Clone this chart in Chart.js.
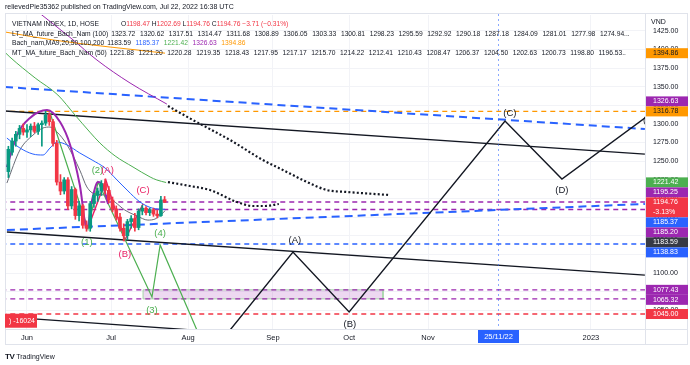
<!DOCTYPE html>
<html>
<head>
<meta charset="utf-8">
<script src="https://cdn.jsdelivr.net/npm/chart.js@4.4.1/dist/chart.umd.min.js"></script>
<style>
  html, body { margin: 0; padding: 0; background: #fff; }
  #wrap { position: relative; width: 690px; height: 365px; overflow: hidden;
          font-family: "Liberation Sans", Arial, sans-serif; color: #131722; }
  canvas { position: absolute; left: 0; top: 0; }
  #hdr { position: absolute; left: 5px; top: 3px; font-size: 7px; white-space: nowrap; color: #131722; }
  #legend { position: absolute; left: 12px; top: 19px; font-size: 6.7px; line-height: 9.6px; white-space: nowrap; }
  #legend .nm { margin-right: 3px; }
  #legend .nm1 { margin-right: 22px; }
  #legend .v { margin-right: 4.6px; }
  #vnd { position: absolute; left: 651px; top: 18px; font-size: 7px; }
  #logo { position: absolute; left: 5px; top: 352px; font-size: 7px; white-space: nowrap; }
  #logo b { font-size: 8px; letter-spacing: -0.5px; margin-right: 2px; }
</style>
</head>
<body>
<div id="wrap">
  <canvas id="c" width="690" height="365"></canvas>
  <div id="hdr">relievedPie35362 published on TradingView.com, Jul 22, 2022 16:38 UTC</div>
  <div id="legend"></div>
  <div id="vnd">VND</div>
  <div id="logo"><b>TV</b>TradingView</div>
</div>
<script>
/* x = trading-day index, 0 = 1 Jun 2022 */
const X_MIN = -5.91, X_MAX = 166.13;
const Y_MIN = 1024.9, Y_MAX = 1446.1;

const timeTickIdx    = [0, 22.6, 43.3, 66.1, 86.6, 107.8, 151.6];
const timeTickLabels = ['Jun', 'Jul', 'Aug', 'Sep', 'Oct', 'Nov', '2023'];
const crossIdx = 126.6, crossLabel = '25/11/22';
const priceTicks = [1050, 1075, 1100, 1125, 1150, 1175, 1200, 1225, 1250, 1275, 1300, 1325, 1350, 1375, 1400, 1425];

/* daily candles */
const candleIdx = [-5,-4,-3,-2,-1,0,1,2,3,4,5,6,7,8,9,10,11,12,13,14,15,16,17,18,19,20,21,22,23,24,25,26,27,28,29,30,31,32,33,34,35,36,37];
const openP  = [1236,1262,1277,1286,1294,1289,1292,1297,1290,1299,1301,1312,1303,1274,1222,1210,1225,1190,1212,1177,1190,1164,1160,1193,1204,1210,1220,1211,1198,1186,1175,1160,1150,1169,1173,1161,1183,1187,1181,1185,1179,1177,1198.47];
const highP  = [1270,1281,1290,1298,1300,1299,1300,1302,1301,1304,1317,1315,1306,1278,1232,1228,1228,1216,1214,1196,1192,1170,1196,1207,1214,1224,1226,1216,1202,1190,1180,1166,1172,1177,1180,1186,1191,1189,1187,1187,1184,1203,1202.69];
const lowP   = [1228,1258,1270,1280,1285,1282,1283,1288,1286,1270,1298,1298,1270,1218,1205,1206,1185,1186,1172,1170,1160,1156,1156,1188,1196,1204,1206,1194,1182,1171,1156,1143,1145,1160,1156,1158,1178,1178,1177,1176,1174,1176,1194.76];
const closeP = [1266,1277,1286,1294,1289,1292,1297,1290,1299,1301,1312,1303,1274,1222,1210,1225,1190,1212,1177,1190,1164,1160,1193,1204,1210,1220,1211,1198,1186,1175,1160,1150,1169,1173,1161,1183,1187,1181,1185,1179,1177,1198,1194.76];

/* moving averages (Bach_nam MA9,20,50,100,200) */
const ma9X   = [-5.4, -1.9, 1.6, 4.3, 6.2, 8.1, 10.8, 14.2, 16.1, 18.3, 21, 23.7, 26.3, 29.6, 32.5, 34.4, 36, 37.1];
const ma9Y   = [1220.7, 1265, 1285, 1294.5, 1295.8, 1289, 1271.7, 1238, 1215.4, 1206, 1204.6, 1195, 1184.5, 1176.5, 1171, 1172.4, 1177.8, 1183.6];
const ma20X  = [-5.4, -1.9, 1.6, 4.3, 6.2, 8.1, 10.8, 14.2, 17.5, 21, 24.2, 26.9, 30.4, 33.6, 37.1];
const ma20Y  = [1281, 1267.7, 1259.6, 1258.3, 1267.7, 1275.7, 1271.7, 1261, 1251.6, 1240.8, 1224.8, 1211.3, 1195.2, 1187.2, 1185.4];
const ma50X  = [-5.9, -4.6, 2.2, 8.3, 12.9, 16.9, 19.6, 23.7, 28.5, 33.1, 34.9, 37.4];
const ma50Y  = [1396, 1389.7, 1361.6, 1338.8, 1312, 1289, 1274.4, 1257, 1242.2, 1228.8, 1224.8, 1221.4];
const ma100X = [2, 12.1, 18.8, 27.7, 37.6];
const ma100Y = [1454, 1413.9, 1385.7, 1354.9, 1326.6];
const ma200X = [-5.9, 7.0, 37.1];
const ma200Y = [1423.3, 1412.6, 1394.9];

/* projected MAs (dotted) */
const ltX = [37.9, 44.6, 54.6, 63.4, 68.8, 75.3, 80.6, 86, 97.6];
const ltY = [1324, 1305.2, 1278.4, 1251.6, 1238.2, 1222, 1211.3, 1208.7, 1204.6];
const mtX = [37.9, 43.8, 49.2, 56.5, 60.8, 64, 67.7];
const mtY = [1222, 1216.7, 1211.3, 1195.2, 1189.9, 1189.9, 1192.6];

/* drawings */
const arcX = [-5.4, -2.7, 0.8, 5.4, 8.9, 11.6, 14.2, 16.1, 17.5, 19.1, 20.4, 21.8];
const arcY = [1242, 1285, 1308, 1318.6, 1302.5, 1271.7, 1218, 1160, 1198, 1222, 1217, 1192.5];
const waveX = [6.2, 16.4, 19.1, 33.6, 35.8, 46.5];
const waveY = [1314.6, 1159, 1222, 1067.8, 1137.6, 1014];
const abcX = [16.4, 21.2, 26.3, 31.2];
const abcY = [1160.4, 1224.8, 1144.3, 1192.6];
const zigX = [52.4, 71.5, 86.6, 128.5, 143.8, 168];
const zigY = [1010, 1128.2, 1047.7, 1303.9, 1226, 1315];

const upperTrendX = [-5.9, 166.1], upperTrendY = [1317.3, 1259.6];
const lowerTrendX = [-5.4, 166.1], lowerTrendY = [1155, 1097.3];
const lowChanX    = [-7.3, 60],    lowChanY    = [1041.6, 1018.2];
const blueDownX   = [-5.9, 166.1], blueDownY   = [1349.5, 1293.2];
const blueUpX     = [-5.4, 166.1], blueUpY     = [1157.7, 1192.6];

const boxX = [31.2, 95.7], boxY = [1077.43, 1065.32];

const levelP = [1316.78, 1195.25, 1185.20, 1138.83, 1077.43, 1065.32, 1045.00];
const levelC = ['#ff9800', '#9c27b0', '#9c27b0', '#2962ff', '#9c27b0', '#9c27b0', '#f23645'];

/* wave labels */
const greenLblT = ['(1)', '(2)', '(3)', '(4)'];
const greenLblX = [16.1, 18.95, 33.6, 35.8];
const greenLblY = [1141.6, 1238, 1050.4, 1153.7];
const pinkLblT  = ['(A)', '(B)', '(C)'];
const pinkLblX  = [21.65, 26.3, 31.2];
const pinkLblY  = [1238, 1125.5, 1211.3];
const blackLblT = ['(A)', '(B)', '(C)', '(D)', '(E)'];
const blackLblX = [72, 86.8, 129.8, 143.8, 167.3];
const blackLblY = [1144.3, 1031.6, 1314.6, 1211.3, 1305];

/* price-axis marks */
const axisP   = [1394.86, 1326.63, 1316.78, 1221.42, 1195.25, 1194.76, 1185.37, 1185.20, 1183.59, 1138.83, 1077.43, 1065.32, 1045.00];
const axisBg  = ['#ff9800', '#9c27b0', '#ff9800', '#4caf50', '#9c27b0', '#f23645', '#2962ff', '#9c27b0', '#363a45', '#2962ff', '#9c27b0', '#9c27b0', '#f23645'];
const closeSub = '-3.13%';

/* legend values */
const ltLegend = ['1323.72','1320.62','1317.51','1314.47','1311.68','1308.89','1306.05','1303.33','1300.81','1298.23','1295.59','1292.92','1290.18','1287.18','1284.09','1281.01','1277.98','1274.94...'];
const mtLegend = ['1221.88','1221.20','1220.28','1219.35','1218.43','1217.95','1217.17','1215.70','1214.22','1212.41','1210.43','1208.47','1206.37','1204.50','1202.63','1200.73','1198.80','1196.53..'];
const maLegend = ['1183.59', '1185.37', '1221.42', '1326.63', '1394.86'];
const maLegendC = ['#131722', '#2962ff', '#4caf50', '#9c27b0', '#ff9800'];

/* ---------- legend html ---------- */
const RED = '#f23645';
const spans = (arr, col) => arr.map((v, i) => `<span class="v" style="color:${Array.isArray(col) ? col[i] : col}">${v}</span>`).join('');
document.getElementById('legend').innerHTML = [
  `<div><span class="nm1">VIETNAM INDEX, 1D, HOSE</span>O<span style="color:${RED}">${openP[openP.length-1].toFixed(2)}</span> H<span style="color:${RED}">${highP[highP.length-1].toFixed(2)}</span> L<span style="color:${RED}">${lowP[lowP.length-1].toFixed(2)}</span> C<span style="color:${RED}">${closeP[closeP.length-1].toFixed(2)}</span> <span style="color:${RED}">−3.71 (−0.31%)</span></div>`,
  `<div><span class="nm">LT_MA_future_Bach_Nam (100)</span>${spans(ltLegend, '#131722')}</div>`,
  `<div><span class="nm">Bach_nam,MA9,20,50,100,200</span>${spans(maLegend, maLegendC)}</div>`,
  `<div><span class="nm">MT_MA_future_Bach_Nam (50)</span>${spans(mtLegend, '#131722')}</div>`,
].join('');

/* ---------- datasets ---------- */
const pts = (xs, ys) => xs.map((x, i) => ({ x, y: ys[i] }));
function line(xs, ys, color, width, dash, extra) {
  return Object.assign({
    type: 'line', data: pts(xs, ys),
    borderColor: color, borderWidth: width, borderDash: dash || [],
    pointRadius: 0, tension: 0, fill: false, order: 5,
  }, extra || {});
}
const smooth = { cubicInterpolationMode: 'monotone' };

const UP = '#089981', DN = '#f23645';
const candleCol = candleIdx.map((_, i) => closeP[i] >= openP[i] ? UP : DN);

const datasets = [
  // zone box
  line([boxX[0], boxX[1], boxX[1], boxX[0], boxX[0]], [boxY[0], boxY[0], boxY[1], boxY[1], boxY[0]],
       '#a5d6a7', 1, [], { fill: 'shape', backgroundColor: 'rgba(156,39,176,0.18)', order: 9 }),
  // horizontal levels
  ...levelP.map((p, i) => line([X_MIN - 1, X_MAX + 1], [p, p], levelC[i], 1.4, [5, 4], { order: 8 })),
  // channels
  line(blueDownX, blueDownY, '#2962ff', 2, [8, 5], { order: 7 }),
  line(blueUpX, blueUpY, '#2962ff', 2, [8, 5], { order: 7 }),
  line(upperTrendX, upperTrendY, '#131722', 1.3, [], { order: 7 }),
  line(lowerTrendX, lowerTrendY, '#131722', 1.3, [], { order: 7 }),
  line(lowChanX, lowChanY, '#131722', 1.3, [], { order: 7 }),
  // moving averages
  line(ma200X, ma200Y, '#ff9800', 1, [], smooth),
  line(ma100X, ma100Y, '#9c27b0', 1, [], smooth),
  line(ma50X, ma50Y, '#4caf50', 1, [], smooth),
  line(ma20X, ma20Y, '#2962ff', 1, [], smooth),
  line(ma9X, ma9Y, '#6a6d78', 1, [], smooth),
  line(ltX, ltY, '#131722', 2.2, [2, 2.2], smooth),
  line(mtX, mtY, '#131722', 2.2, [2, 2.2], smooth),
  // wave drawings
  line(arcX, arcY, '#9c27b0', 2, [], Object.assign({ order: 2 }, smooth)),
  line(waveX, waveY, '#4caf50', 1.2, [], { order: 2 }),
  line(abcX, abcY, '#e91e63', 1.4, [], { order: 2 }),
  line(zigX, zigY, '#131722', 1.4, [], { order: 2 }),
  // candles
  { type: 'bar', data: candleIdx.map((x, i) => ({ x, y: [lowP[i], highP[i]] })),
    backgroundColor: candleCol, barThickness: 1, grouped: false, order: 1 },
  { type: 'bar', data: candleIdx.map((x, i) => ({ x, y: [openP[i], closeP[i]] })),
    backgroundColor: candleCol, barThickness: 3, grouped: false, order: 0 },
];

/* ---------- overlay plugin ---------- */
const FONT = '"Liberation Sans", Arial, sans-serif';
const overlay = {
  id: 'overlay',
  beforeDraw(c) {
    const g = c.ctx;
    g.save(); g.fillStyle = '#fff'; g.fillRect(0, 0, c.width, c.height); g.restore();
  },
  afterDatasetsDraw(c) {
    const { ctx: g, chartArea: a, scales: { x, y } } = c;
    g.save();
    g.beginPath(); g.rect(a.left, a.top, a.right - a.left, a.bottom - a.top); g.clip();
    g.font = `9.5px ${FONT}`; g.textAlign = 'center'; g.textBaseline = 'middle';
    const put = (T, X, Y, col) => T.forEach((t, i) => {
      g.fillStyle = col; g.fillText(t, x.getPixelForValue(X[i]), y.getPixelForValue(Y[i]));
    });
    put(greenLblT, greenLblX, greenLblY, '#4caf50');
    put(pinkLblT, pinkLblX, pinkLblY, '#e91e63');
    put(blackLblT, blackLblX, blackLblY, '#131722');
    g.restore();
  },
  afterDraw(c) {
    const { ctx: g, chartArea: a, scales: { x, y } } = c;
    g.save();
    // frame
    g.strokeStyle = '#e0e3eb'; g.lineWidth = 1;
    g.strokeRect(5.5, 13.5, 682, 331);
    g.beginPath();
    g.moveTo(a.right + 0.5, 13); g.lineTo(a.right + 0.5, 345);
    g.moveTo(5, a.bottom + 0.5); g.lineTo(688, a.bottom + 0.5);
    g.stroke();

    // crosshair
    const cx = Math.round(x.getPixelForValue(crossIdx)) + 0.5;
    g.strokeStyle = 'rgba(41,98,255,0.55)'; g.setLineDash([2, 3]);
    g.beginPath(); g.moveTo(cx, 14); g.lineTo(cx, a.bottom); g.stroke();
    g.setLineDash([]);
    g.fillStyle = '#2962ff';
    g.fillRect(cx - 20.5, a.bottom + 1, 41, 13);
    g.fillStyle = '#fff'; g.font = `7.5px ${FONT}`; g.textAlign = 'center'; g.textBaseline = 'middle';
    g.fillText(crossLabel, cx, a.bottom + 8);

    // red badge bottom-left
    const by = y.getPixelForValue(1036);
    g.fillStyle = '#f23645';
    g.fillRect(a.left, by - 7, 32, 14);
    g.fillStyle = '#fff'; g.textAlign = 'right'; g.font = `7px ${FONT}`;
    g.fillText(') -16024', a.left + 30, by);

    // price axis marks with simple collision push
    const H = 10;
    const closeNow = closeP[closeP.length - 1];
    const items = axisP.map((p, i) => ({ p, i, yy: y.getPixelForValue(p) }));
    const main = items.find(o => o.p === closeNow);
    main.top = main.yy - 5; main.h = 20;
    let edge = main.top + main.h;
    items.filter(o => o.p < closeNow).sort((m, n) => m.yy - n.yy).forEach(o => {
      o.top = Math.max(o.yy - H / 2, edge); o.h = H; edge = o.top + H;
    });
    edge = main.top;
    items.filter(o => o.p > closeNow).sort((m, n) => n.yy - m.yy).forEach(o => {
      o.top = Math.min(o.yy + H / 2, edge) - H; o.h = H; edge = o.top;
    });
    g.font = `7px ${FONT}`; g.textAlign = 'left'; g.textBaseline = 'middle';
    items.forEach(o => {
      const bg = axisBg[o.i];
      g.fillStyle = bg;
      g.fillRect(a.right + 1, o.top, 42, o.h);
      g.fillStyle = bg === '#ff9800' ? '#131722' : '#fff';
      g.fillText(o.p.toFixed(2), a.right + 8, o.top + 5);
      if (o === main) g.fillText(closeSub, a.right + 8, o.top + 15);
    });
    g.restore();
  },
};

Chart.defaults.font.family = FONT;
new Chart(document.getElementById('c'), {
  type: 'bar',
  data: { datasets },
  options: {
    responsive: false, animation: false, devicePixelRatio: 1,
    layout: { padding: { left: 5, top: 15, right: 2, bottom: 20 } },
    plugins: { legend: { display: false }, tooltip: { enabled: false } },
    scales: {
      x: {
        type: 'linear', min: X_MIN, max: X_MAX, offset: false,
        afterFit: s => { s.height = 16; },
        afterBuildTicks: s => { s.ticks = timeTickIdx.map(v => ({ value: v })); },
        ticks: { autoSkip: false, maxRotation: 0, padding: 4, color: '#131722', font: { size: 7.5 },
                 callback: v => timeTickLabels[timeTickIdx.indexOf(v)] },
        grid: { color: '#f2f3f7', drawTicks: false, offset: false },
        border: { display: false },
      },
      y: {
        position: 'right', min: Y_MIN, max: Y_MAX,
        afterFit: s => { s.width = 43; },
        afterBuildTicks: s => { s.ticks = priceTicks.map(v => ({ value: v })); },
        ticks: { padding: 8, crossAlign: 'near', color: '#131722', font: { size: 7 },
                 callback: v => v.toFixed(2) },
        grid: { color: '#f2f3f7', drawTicks: false },
        border: { display: false },
      },
    },
  },
  plugins: [overlay],
});
</script>
</body>
</html>
